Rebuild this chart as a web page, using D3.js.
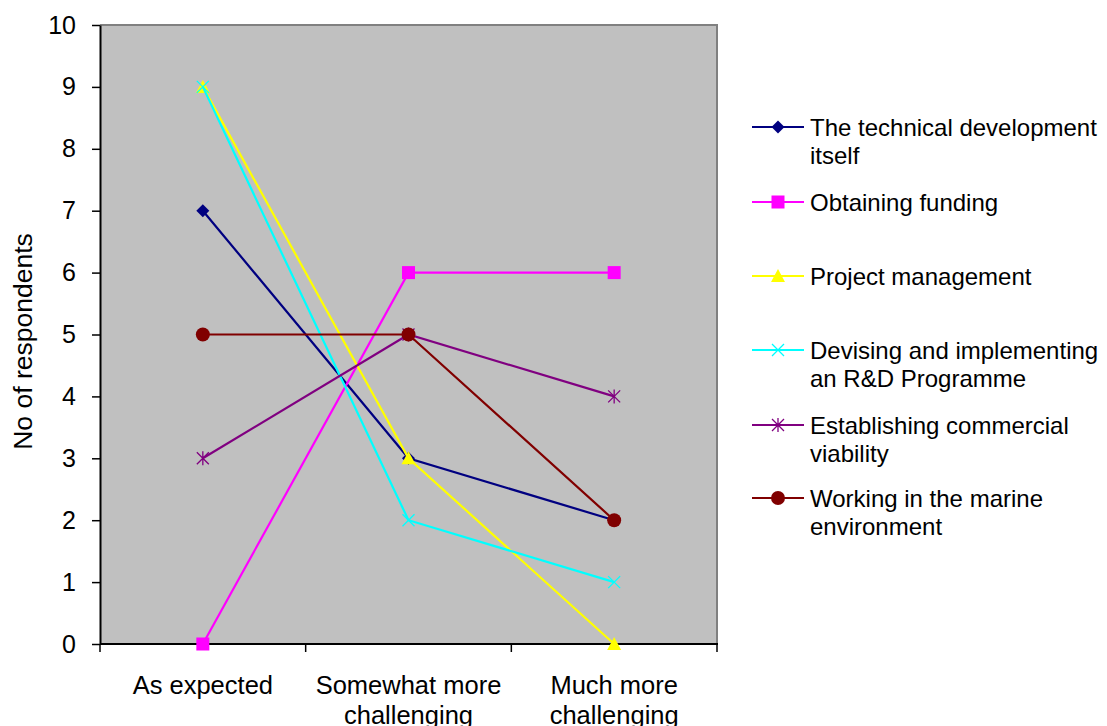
<!DOCTYPE html>
<html>
<head>
<meta charset="utf-8">
<script src="https://cdn.jsdelivr.net/npm/d3@7"></script>
<style>
  html, body { margin: 0; padding: 0; background: #fff; }
  svg { display: block; font-family: Arial, "Liberation Sans", sans-serif; }
</style>
</head>
<body>
<svg id="chart" width="1107" height="726"></svg>
<script>
// Survey responses: how challenging each area turned out to be
const categories = [["As expected"], ["Somewhat more", "challenging"], ["Much more", "challenging"]];
const seriesNames = [
  ["The technical development", "itself"],
  ["Obtaining funding"],
  ["Project management"],
  ["Devising and implementing", "an R&D Programme"],
  ["Establishing commercial", "viability"],
  ["Working in the marine", "environment"]
];
const technical   = [7, 3, 2];
const funding     = [0, 6, 6];
const projectMgmt = [9, 3, 0];
const rdProgramme = [9, 2, 1];
const commercial  = [3, 5, 4];
const marine      = [5, 5, 2];
const yTicks = [0, 1, 2, 3, 4, 5, 6, 7, 8, 9, 10];

const seriesValues = [technical, funding, projectMgmt, rdProgramme, commercial, marine];
const colors = ["#000080", "#FF00FF", "#FFFF00", "#00FFFF", "#800080", "#800000"];
const markers = ["diamond", "square", "triangle", "x", "star", "circle"];

const svg = d3.select("#chart");
const plot = { left: 100, right: 717, top: 25, bottom: 644 };

const x = d3.scaleBand().domain(d3.range(categories.length))
  .range([plot.left, plot.right]).padding(0);
const y = d3.scaleLinear().domain([0, 10]).range([plot.bottom, plot.top]);

// plot background with grey top/right edge
svg.append("rect")
  .attr("x", plot.left).attr("y", plot.top)
  .attr("width", plot.right - plot.left).attr("height", plot.bottom - plot.top)
  .attr("fill", "#C0C0C0");
svg.append("path")
  .attr("d", `M${plot.left},${plot.top}H${plot.right}V${plot.bottom}`)
  .attr("fill", "none").attr("stroke", "#808080").attr("stroke-width", 2);

// y axis
const yAxis = svg.append("g")
  .attr("transform", `translate(${plot.left},0)`)
  .call(d3.axisLeft(y).tickValues(yTicks).tickSize(8).tickPadding(16).tickSizeOuter(0));
yAxis.select(".domain").attr("stroke", "#000").attr("stroke-width", 2);
yAxis.selectAll(".tick line").attr("stroke", "#000").attr("stroke-width", 1.5);
yAxis.selectAll(".tick text")
  .attr("font-size", 25).attr("fill", "#000").attr("font-family", "Arial, 'Liberation Sans', sans-serif");

// x axis: ticks at category boundaries
const xAxisG = svg.append("g").attr("transform", `translate(0,${plot.bottom})`);
xAxisG.append("line")
  .attr("x1", plot.left).attr("x2", plot.right + 1)
  .attr("stroke", "#000").attr("stroke-width", 2);
const bounds = d3.range(categories.length + 1).map(i =>
  i < categories.length ? x(i) : x(categories.length - 1) + x.bandwidth());
xAxisG.selectAll("line.tick").data(bounds).join("line")
  .attr("class", "tick")
  .attr("x1", d => d).attr("x2", d => d)
  .attr("y1", 0).attr("y2", 8)
  .attr("stroke", "#000").attr("stroke-width", 1.5);
xAxisG.selectAll("text").data(categories).join("text")
  .attr("x", (d, i) => x(i) + x.bandwidth() / 2)
  .attr("y", 50)
  .attr("text-anchor", "middle")
  .attr("font-size", 25.5)
  .attr("fill", "#000")
  .each(function (d) {
    d3.select(this).selectAll("tspan").data(d).join("tspan")
      .attr("x", (t, j, n) => d3.select(this).attr("x"))
      .attr("dy", (t, j) => j === 0 ? 0 : 30)
      .text(t => t);
  });

// y axis title
svg.append("text")
  .attr("transform", `translate(32,${(plot.top + plot.bottom) / 2 + 7}) rotate(-90)`)
  .attr("text-anchor", "middle")
  .attr("font-size", 26.5)
  .attr("fill", "#000")
  .text("No of respondents");

// marker drawing
function drawMarker(g, type, color, cx, cy) {
  switch (type) {
    case "diamond":
      g.append("path").attr("d", `M${cx},${cy - 6.5}L${cx + 6.5},${cy}L${cx},${cy + 6.5}L${cx - 6.5},${cy}Z`)
        .attr("fill", color);
      break;
    case "square":
      g.append("rect").attr("x", cx - 6.5).attr("y", cy - 6.5).attr("width", 13).attr("height", 13)
        .attr("fill", color);
      break;
    case "triangle":
      g.append("path").attr("d", `M${cx},${cy - 7}L${cx + 7},${cy + 6}L${cx - 7},${cy + 6}Z`)
        .attr("fill", color);
      break;
    case "x":
      g.append("path").attr("d", `M${cx - 6},${cy - 6}L${cx + 6},${cy + 6}M${cx - 6},${cy + 6}L${cx + 6},${cy - 6}`)
        .attr("stroke", color).attr("stroke-width", 1.3).attr("fill", "none");
      break;
    case "star":
      g.append("path").attr("d", `M${cx - 6},${cy - 6}L${cx + 6},${cy + 6}M${cx - 6},${cy + 6}L${cx + 6},${cy - 6}M${cx},${cy - 7}V${cy + 7}`)
        .attr("stroke", color).attr("stroke-width", 1.3).attr("fill", "none");
      break;
    case "circle":
      g.append("circle").attr("cx", cx).attr("cy", cy).attr("r", 7).attr("fill", color);
      break;
  }
}

// series lines and markers
const line = d3.line()
  .x((d, i) => x(i) + x.bandwidth() / 2)
  .y(d => y(d));

seriesValues.forEach((vals, s) => {
  const g = svg.append("g");
  g.append("path").datum(vals)
    .attr("d", line)
    .attr("fill", "none")
    .attr("stroke", colors[s])
    .attr("stroke-width", 2.2);
  vals.forEach((v, i) => drawMarker(g, markers[s], colors[s], x(i) + x.bandwidth() / 2, y(v)));
});

// legend
const legendRows = [127, 202, 276, 350, 425, 498];
const legend = svg.append("g");
seriesNames.forEach((name, s) => {
  const ly = legendRows[s];
  const g = legend.append("g");
  g.append("line").attr("x1", 752).attr("x2", 804).attr("y1", ly).attr("y2", ly)
    .attr("stroke", colors[s]).attr("stroke-width", 2.2);
  drawMarker(g, markers[s], colors[s], 778, ly);
  const t = g.append("text").attr("x", 810).attr("y", ly + 9)
    .attr("font-size", 24).attr("fill", "#000");
  name.forEach((ln, j) => {
    t.append("tspan").attr("x", 810).attr("dy", j === 0 ? 0 : 28).text(ln);
  });
});
</script>
</body>
</html>
